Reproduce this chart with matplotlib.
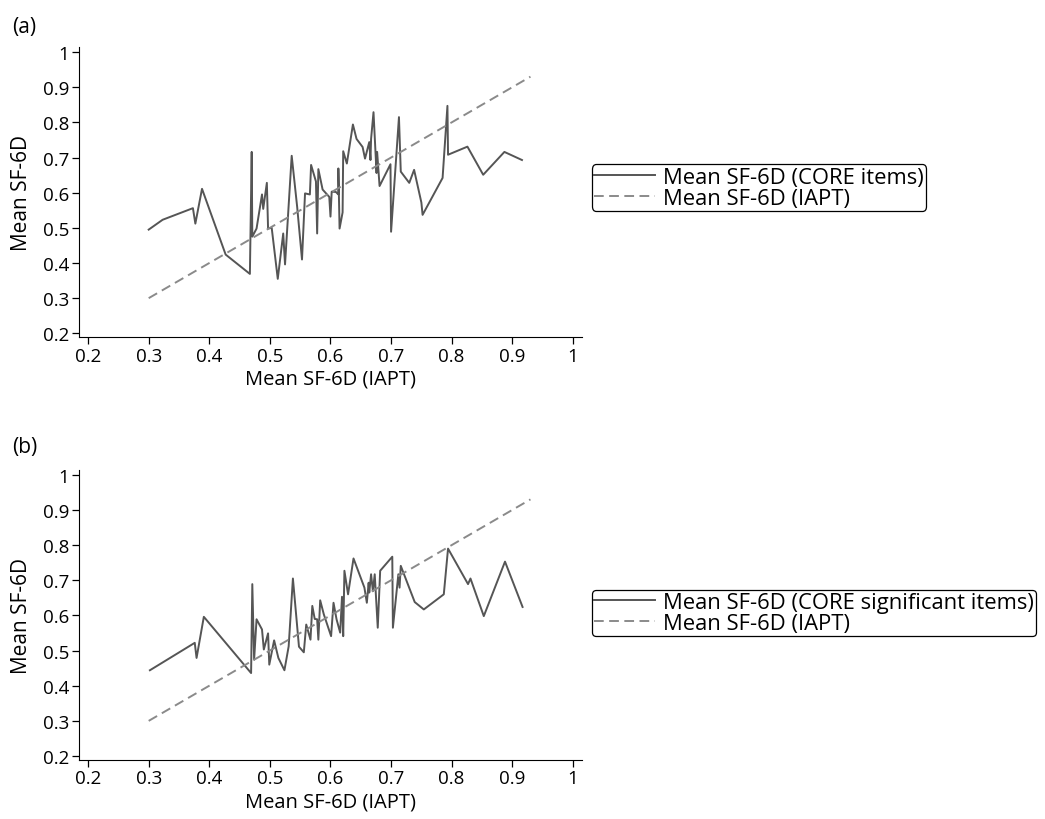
import matplotlib
matplotlib.use("Agg")
import matplotlib.pyplot as plt

plt.rcParams['font.family'] = ['Open Sans', 'DejaVu Sans']

# panel (a): mean SF-6D from CORE items against IAPT
iapt_a = [0.300, 0.323, 0.373, 0.377, 0.388, 0.427, 0.467, 0.470, 0.471, 0.478,
          0.487, 0.489, 0.495, 0.497, 0.503, 0.513, 0.522, 0.525, 0.536, 0.545,
          0.553, 0.558, 0.566, 0.568, 0.576, 0.578, 0.580, 0.587, 0.598, 0.600,
          0.602, 0.609, 0.613, 0.613, 0.615, 0.620, 0.621, 0.627, 0.637, 0.643,
          0.653, 0.657, 0.664, 0.666, 0.667, 0.671, 0.676, 0.677, 0.681, 0.699,
          0.700, 0.713, 0.716, 0.730, 0.738, 0.750, 0.752, 0.785, 0.793, 0.794,
          0.826, 0.852, 0.887, 0.916]
core_a = [0.495, 0.523, 0.556, 0.512, 0.611, 0.424, 0.369, 0.716, 0.475, 0.498,
          0.595, 0.554, 0.628, 0.498, 0.500, 0.355, 0.484, 0.396, 0.705, 0.560,
          0.410, 0.598, 0.595, 0.679, 0.632, 0.484, 0.667, 0.609, 0.588, 0.532,
          0.603, 0.602, 0.595, 0.669, 0.498, 0.544, 0.718, 0.683, 0.794, 0.753,
          0.730, 0.697, 0.744, 0.693, 0.753, 0.829, 0.656, 0.716, 0.619, 0.681,
          0.489, 0.815, 0.660, 0.628, 0.665, 0.572, 0.537, 0.642, 0.847, 0.708,
          0.731, 0.651, 0.716, 0.693]

# panel (b): mean SF-6D from CORE significant items against IAPT
iapt_b = [0.302, 0.376, 0.379, 0.391, 0.469, 0.471, 0.474, 0.478, 0.487, 0.490,
          0.497, 0.499, 0.507, 0.514, 0.524, 0.531, 0.538, 0.548, 0.556, 0.560,
          0.567, 0.570, 0.574, 0.578, 0.580, 0.583, 0.589, 0.601, 0.605, 0.610,
          0.616, 0.619, 0.621, 0.623, 0.629, 0.638, 0.656, 0.660, 0.663, 0.664,
          0.667, 0.670, 0.673, 0.678, 0.682, 0.702, 0.703, 0.712, 0.714, 0.716,
          0.739, 0.754, 0.787, 0.794, 0.827, 0.831, 0.853, 0.888, 0.917]
core_b = [0.444, 0.522, 0.479, 0.596, 0.436, 0.689, 0.474, 0.589, 0.560, 0.503,
          0.549, 0.460, 0.529, 0.479, 0.444, 0.512, 0.705, 0.511, 0.495, 0.574,
          0.531, 0.627, 0.590, 0.589, 0.531, 0.643, 0.603, 0.541, 0.636, 0.589,
          0.551, 0.653, 0.541, 0.727, 0.660, 0.762, 0.679, 0.636, 0.693, 0.665,
          0.717, 0.669, 0.717, 0.565, 0.727, 0.767, 0.565, 0.717, 0.679, 0.741,
          0.638, 0.617, 0.660, 0.790, 0.689, 0.705, 0.598, 0.753, 0.624]

# line of equality
diag = [0.30, 0.93]

ticks = [0.2, 0.3, 0.4, 0.5, 0.6, 0.7, 0.8, 0.9, 1]
tick_labels = ['0.2', '0.3', '0.4', '0.5', '0.6', '0.7', '0.8', '0.9', '1']

# tag, x, y, legend name, axes bottom, tag y, legend centre y
panels = [
    ("(a)", iapt_a, core_a, "Mean SF-6D (CORE items)", 0.588, 0.966, 0.770),
    ("(b)", iapt_b, core_b, "Mean SF-6D (CORE significant items)", 0.0725, 0.454, 0.251),
]

fig = plt.figure(figsize=(10.45, 8.2), dpi=100)
fs_tick = 13.5
fs_lab = 14.5
fs_leg = 15.8

for tag, x, y, name, bottom, tag_y, leg_y in panels:
    ax = fig.add_axes([0.0756, bottom, 0.4813, 0.3537])
    ax.plot(x, y, color="#555555", lw=1.4, label=name)
    ax.plot(diag, diag, color="#8a8a8a", lw=1.4, ls=(0, (5, 2.8)), label="Mean SF-6D (IAPT)")
    ax.set_xlim(0.185, 1.015)
    ax.set_ylim(0.19, 1.015)
    ax.set_xticks(ticks)
    ax.set_xticklabels(tick_labels)
    ax.set_yticks(ticks)
    ax.set_yticklabels(tick_labels)
    ax.spines['top'].set_visible(False)
    ax.spines['right'].set_visible(False)
    ax.tick_params(labelsize=fs_tick, length=5, width=0.9, pad=2)
    ax.set_xlabel("Mean SF-6D (IAPT)", fontsize=fs_lab, labelpad=3)
    ax.set_ylabel("Mean SF-6D", fontsize=fs_lab + 0.5, labelpad=8)
    fig.text(0.0115, tag_y, tag, fontsize=fs_lab + 0.5, va='center')
    leg = ax.legend(loc='center left', bbox_to_anchor=(0.5665, leg_y),
                    bbox_transform=fig.transFigure, fontsize=fs_leg, frameon=True,
                    fancybox=True, handlelength=2.75, handletextpad=0.4,
                    borderpad=0.1, labelspacing=0.0, borderaxespad=0)
    frame = leg.get_frame()
    frame.set_edgecolor('black')
    frame.set_linewidth(0.9)
    frame.set_alpha(1)

fig.savefig("out.png", dpi=100)
